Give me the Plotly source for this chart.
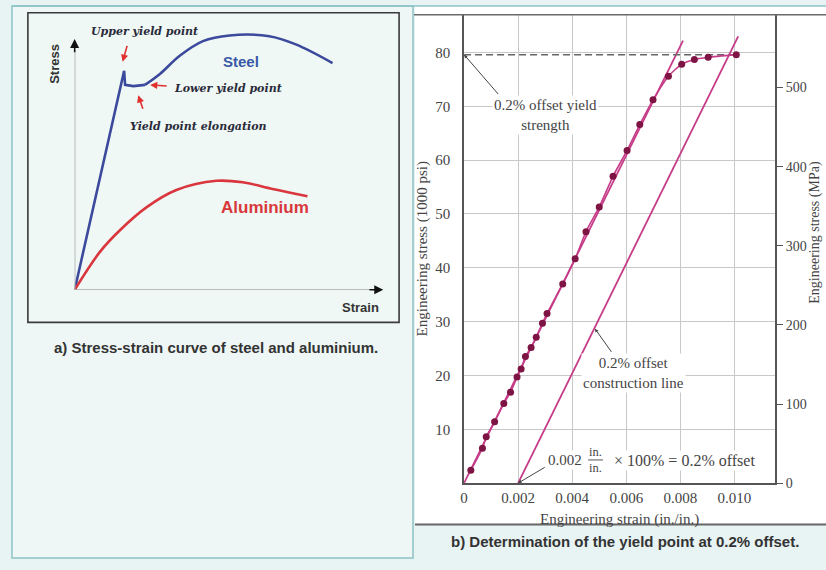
import plotly.graph_objects as go

W, H = 826, 570

# ---------------- data: panel a (schematic, arbitrary units) ----------------
steel_strain = [0, 15.1, 16.2, 16.5, 19.2, 23.0, 27.9, 34.4, 42.0, 50.7, 63.7, 72.4, 84.4]
steel_stress = [0, 82.9, 88.2, 82.5, 82.0, 82.5, 86.9, 94.2, 100.1, 102.4, 102.1, 98.8, 91.3]
alu_strain = [0, 8.4, 14.9, 23.6, 33.3, 46.4, 55.0, 64.8, 76.2]
alu_stress = [0, 15.5, 24.1, 33.3, 40.2, 43.9, 43.3, 40.6, 37.7]

# ---------------- data: panel b ----------------
test_strain = [0.00025, 0.00068, 0.00082, 0.00113, 0.00147, 0.00172, 0.00196, 0.00211,
               0.00227, 0.00248, 0.00267, 0.00290, 0.00307, 0.00365, 0.00411, 0.00451,
               0.00500, 0.00551, 0.00603, 0.00650, 0.00699, 0.00756, 0.00805, 0.00852,
               0.00903, 0.01007]
test_stress = [2.4, 6.5, 8.6, 11.4, 14.8, 16.9, 19.7, 21.2, 23.5, 25.2, 27.1, 29.7, 31.5,
               37.0, 41.7, 46.7, 51.3, 57.0, 61.8, 66.6, 71.2, 75.6, 77.8, 78.7, 79.1, 79.6]
elastic_line_strain = [0, 0.0081]
elastic_line_stress = [0, 82.2]
offset_line_strain = [0.002, 0.01014]
offset_line_stress = [0, 83.0]
yield_strength = 79.6
x_ticks = [0, 0.002, 0.004, 0.006, 0.008, 0.010]
x_tick_labels = ["0", "0.002", "0.004", "0.006", "0.008", "0.010"]
psi_ticks = [10, 20, 30, 40, 50, 60, 70, 80]
mpa_ticks = [0, 100, 200, 300, 400, 500]


def X(px):
    return px / W


def Y(py):
    return 1 - py / H


MAG = "#c63c88"
DOT = "#7d1444"
BLUE = "#3b4a9c"
RED = "#d9363e"
SERIF = "Liberation Serif"
SANS = "Liberation Sans"

fig = go.Figure()

# ---- panel a traces ----
fig.add_trace(go.Scatter(x=steel_strain[:6], y=steel_stress[:6], mode="lines",
                         line=dict(color=BLUE, width=2.6), xaxis="x", yaxis="y",
                         hoverinfo="skip"))
fig.add_trace(go.Scatter(x=steel_strain[5:], y=steel_stress[5:], mode="lines",
                         line=dict(color=BLUE, width=2.6, shape="spline", smoothing=1.0),
                         xaxis="x", yaxis="y", hoverinfo="skip"))
fig.add_trace(go.Scatter(x=alu_strain, y=alu_stress, mode="lines",
                         line=dict(color=RED, width=2.6, shape="spline", smoothing=1.0),
                         xaxis="x", yaxis="y", hoverinfo="skip"))

# ---- panel b traces ----
fig.add_trace(go.Scatter(x=elastic_line_strain, y=elastic_line_stress, mode="lines",
                         line=dict(color=MAG, width=1.8), xaxis="x2", yaxis="y2",
                         cliponaxis=False))
fig.add_trace(go.Scatter(x=offset_line_strain, y=offset_line_stress, mode="lines",
                         line=dict(color=MAG, width=1.8), xaxis="x2", yaxis="y2",
                         cliponaxis=False))
fig.add_trace(go.Scatter(x=[0, test_strain[-1]], y=[yield_strength, yield_strength],
                         mode="lines", line=dict(color="#666", width=1.5, dash="7px,4px"),
                         xaxis="x2", yaxis="y2"))
fig.add_trace(go.Scatter(x=test_strain, y=test_stress, mode="lines+markers",
                         line=dict(color=MAG, width=1.6, shape="spline", smoothing=0.6),
                         marker=dict(color=DOT, size=7), xaxis="x2", yaxis="y2"))
fig.add_trace(go.Scatter(x=[0], y=[0], mode="markers", marker=dict(opacity=0),
                         xaxis="x2", yaxis="y3", hoverinfo="skip"))

shapes = []
# background panels
shapes.append(dict(type="rect", xref="paper", yref="paper", x0=X(8), x1=X(411), y0=Y(566), y1=Y(6),
                   line=dict(color="#8cc3c6", width=1.5), fillcolor="#eef7f6", layer="below"))
shapes.append(dict(type="rect", xref="paper", yref="paper", x0=X(413), x1=X(826), y0=Y(532), y1=Y(6),
                   line=dict(width=0), fillcolor="#ffffff", layer="below"))
shapes.append(dict(type="line", xref="paper", yref="paper", x0=X(8), x1=X(826), y0=Y(6), y1=Y(6),
                   line=dict(color="#8cc3c6", width=1.5), layer="below"))
shapes.append(dict(type="rect", xref="paper", yref="paper", x0=X(24), x1=X(397), y0=Y(327), y1=Y(13),
                   line=dict(color="#3a3a3a", width=1.6), fillcolor="#eff8f4", layer="below"))
# panel a axes shafts
shapes.append(dict(type="line", xref="x", yref="y", x0=0, y0=0, x1=0, y1=97,
                   line=dict(color="#a8a8a8", width=1.5)))
shapes.append(dict(type="line", xref="x", yref="y", x0=0, y0=0, x1=98, y1=0,
                   line=dict(color="#a8a8a8", width=1.5)))
# panel b top frame & separator
shapes.append(dict(type="line", xref="paper", yref="paper", x0=X(412), x1=X(826), y0=Y(15), y1=Y(15),
                   line=dict(color="#6a6a6a", width=1.5)))
shapes.append(dict(type="line", xref="paper", yref="paper", x0=X(413), x1=X(826), y0=Y(532), y1=Y(532),
                   line=dict(color="#666", width=2)))
# fraction bar
shapes.append(dict(type="line", xref="paper", yref="paper", x0=X(587), x1=X(602), y0=Y(466.5), y1=Y(466.5),
                   line=dict(color="#555", width=1)))

ann = []


def txt(px, py, text, size=13, color="#444", family=SERIF, angle=0, bg=None, xanchor="center", pad=1):
    d = dict(xref="paper", yref="paper", x=X(px), y=Y(py), text=text, showarrow=False,
             font=dict(size=size, color=color, family=family), textangle=angle,
             xanchor=xanchor, yanchor="middle", borderpad=pad)
    if bg:
        d["bgcolor"] = bg
    ann.append(d)


def arrow(xr, yr, x, y, ax, ay, color, width=1.2, head=2, size=1.0):
    ann.append(dict(xref=xr, yref=yr, axref=xr, ayref=yr, x=x, y=y, ax=ax, ay=ay, text="",
                    showarrow=True, arrowhead=head, arrowsize=size, arrowwidth=width,
                    arrowcolor=color))


# panel a axis arrowheads
arrow("x", "y", 0, 101, 0, 95, "#111", width=1.5, head=2, size=1.2)
arrow("x", "y", 101, 0, 96, 0, "#111", width=1.5, head=2, size=1.2)
# panel a red arrows
arrow("x", "y", 15.7, 91.8, 17.3, 98.8, "#e03030", width=1.6, head=2, size=0.9)
arrow("x", "y", 24.7, 82.5, 30.6, 82.0, "#e03030", width=1.6, head=2, size=0.9)
arrow("x", "y", 20.8, 78.3, 22.5, 72.3, "#e03030", width=1.6, head=2, size=0.9)

# panel a texts
txt(50, 65, "<b>Stress</b>", size=13, color="#333", family=SANS, angle=-90)
txt(358, 312, "<b>Strain</b>", size=13, color="#333", family=SANS)
txt(238, 62, "<b>Steel</b>", size=15, color="#3a5aa6", family=SANS)
txt(262, 210, "<b>Aluminium</b>", size=17, color="#d8383c", family=SANS)
txt(141.5, 31.5, "<b><i>Upper yield point</i></b>", size=11, color="#2a2a3a", family="DejaVu Serif")
txt(225, 89.5, "<b><i>Lower yield point</i></b>", size=11, color="#2a2a3a", family="DejaVu Serif")
txt(195.5, 128.5, "<b><i>Yield point elongation</i></b>", size=11, color="#2a2a3a", family="DejaVu Serif")
txt(213, 352, "<b>a) Stress-strain curve of steel and aluminium.</b>", size=15, color="#333", family=SANS)

# panel b texts
txt(544, 116.5, "0.2% offset yield<br>strength", size=15, bg="#ffffff")
txt(633, 378.5, "0.2% offset<br>construction line", size=15, bg="#ffffff")
txt(564, 467, "0.002", size=15, bg="#ffffff")
txt(594.5, 466.5, "in.<br>in.", size=12.5, bg=None)
txt(684, 467, "× 100% = 0.2% offset", size=16, bg="#ffffff")
txt(420, 252, "Engineering stress (1000 psi)", size=15, angle=-90)
txt(815, 236, "Engineering stress (MPa)", size=14, angle=-90)
txt(618, 527, "Engineering strain (in./in.)", size=15, pad=0)
txt(624, 549, "<b>b) Determination of the yield point at 0.2% offset.</b>", size=15, color="#333", family=SANS)

# panel b arrows
arrow("x2", "y2", 0, yield_strength, 0.00131, 72.0, "#444", width=1, head=2, size=0.7)
arrow("x2", "y2", 0.00484, 28.7, 0.00549, 24.1, "#444", width=1, head=2, size=0.7)
arrow("x2", "y2", 0.002, 0, 0.00304, 3.1, "#444", width=1, head=2, size=0.7)

grid = "#c8c8c8"
tickfont = dict(family=SERIF, size=15, color="#444")
fig.update_layout(
    width=W, height=H, margin=dict(l=0, r=0, t=0, b=0),
    paper_bgcolor="#e8f3f3", plot_bgcolor="white", showlegend=False,
    xaxis=dict(domain=[X(71), X(378)], range=[0, 100], visible=False, anchor="y"),
    yaxis=dict(domain=[Y(294), Y(294 - 110 * 2.52)], range=[0, 110], visible=False, anchor="x"),
    xaxis2=dict(domain=[X(462.3), X(774.7)], range=[0, 0.0115], anchor="y2",
                tickvals=x_ticks, ticktext=x_tick_labels, showgrid=True, gridcolor=grid,
                gridwidth=1.2, zeroline=False, showline=True, linecolor="#555", linewidth=1.8,
                ticks="", tickfont=tickfont),
    yaxis2=dict(domain=[Y(490), Y(15)], range=[0, 87], anchor="x2",
                tickvals=psi_ticks, showgrid=True, gridcolor=grid, gridwidth=1.2,
                zeroline=False, showline=True, linecolor="#555", linewidth=1.8,
                ticks="outside", ticklen=9, tickcolor="rgba(0,0,0,0)", tickfont=tickfont),
    yaxis3=dict(overlaying="y2", side="right", anchor="x2", range=[0, 592],
                tickvals=mpa_ticks, showgrid=False, zeroline=False, showline=True,
                linecolor="#555", linewidth=1.8, ticks="outside", ticklen=6, tickcolor="#555",
                tickfont=dict(family=SERIF, size=14, color="#444")),
    shapes=shapes, annotations=ann,
)

fig.write_html(
    "out.html",
    config={"displayModeBar": False},
    post_script=("document.body.style.margin='0px';"
                 "document.body.style.overflow='hidden';"
                 "document.documentElement.style.overflow='hidden';"
                 "document.body.style.background='#e8f3f3';"),
)
